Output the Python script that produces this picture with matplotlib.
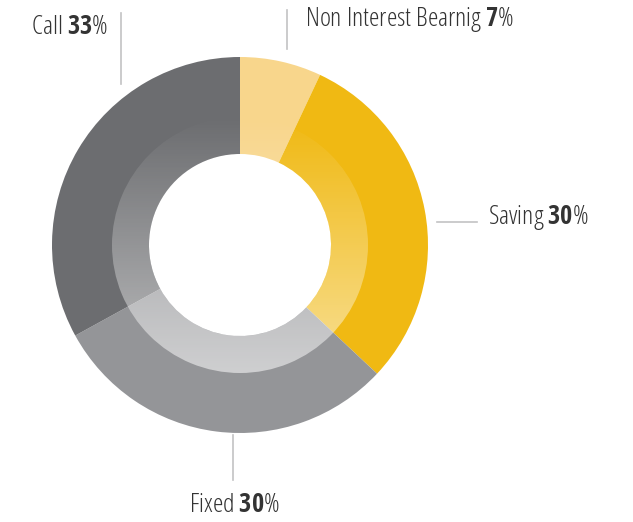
import numpy as np
import matplotlib.pyplot as plt
from matplotlib.patches import Wedge

labels = ['Non Interest Bearnig', 'Saving', 'Fixed', 'Call']
values = [7, 30, 30, 33]
colors = ['#F8D68C', '#F0B913', '#949598', '#6C6D70']

plt.rcParams['font.family'] = 'Open Sans'
plt.rcParams['font.weight'] = 300
plt.rcParams['font.stretch'] = 'condensed'
plt.rcParams['mathtext.fontset'] = 'custom'
plt.rcParams['mathtext.rm'] = 'Open Sans:light'
plt.rcParams['mathtext.bf'] = 'Open Sans Condensed:bold'

W, H = 633, 522
fig = plt.figure(figsize=(W / 100, H / 100), dpi=100)
ax = fig.add_axes([0, 0, 1, 1])

# donut geometry in pixels
cx, cy = 240, H - 245
R, band, hole = 188, 128, 91

wedges, _ = ax.pie(values, colors=colors, startangle=90, counterclock=False,
                   radius=R, center=(cx, cy),
                   wedgeprops=dict(width=R - hole, linewidth=0))

# lighter inner band: white overlay fading in towards the bottom
grad = np.ones((256, 1, 4))
grad[:, 0, 3] = np.linspace(0.55, 0.0, 256)
im = ax.imshow(grad, extent=(cx - band, cx + band, cy - band, cy + band),
               origin='lower', aspect='auto', interpolation='bilinear', zorder=3)
ring = Wedge((cx, cy), band, 0, 360, width=band - hole,
             facecolor='none', edgecolor='none')
ax.add_patch(ring)
im.set_clip_path(ring)

line_c = '#C2C2C4'
txt_c = '#333333'
fs = 19

def lab(x, y, i, **kw):
    ax.text(x, H - y, labels[i] + ' $\\mathbf{' + str(values[i]) + '}$%',
            fontsize=fs, color=txt_c, va='center', **kw)

# Non Interest Bearnig
ax.plot([287, 287], [H - 10, H - 49], color=line_c, lw=1.2)
lab(305, 20, 0, ha='left')
# Saving
ax.plot([437, 477], [H - 222, H - 222], color=line_c, lw=1.2)
lab(488, 218, 1, ha='left')
# Fixed
ax.plot([233, 233], [H - 435, H - 480], color=line_c, lw=1.2)
lab(234, 505, 2, ha='center')
# Call
ax.plot([121, 121], [H - 13, H - 84], color=line_c, lw=1.2)
lab(108, 27, 3, ha='right')

ax.set_xlim(0, W)
ax.set_ylim(0, H)
ax.set_aspect('equal')
ax.axis('off')
fig.savefig('out.png', dpi=100)
